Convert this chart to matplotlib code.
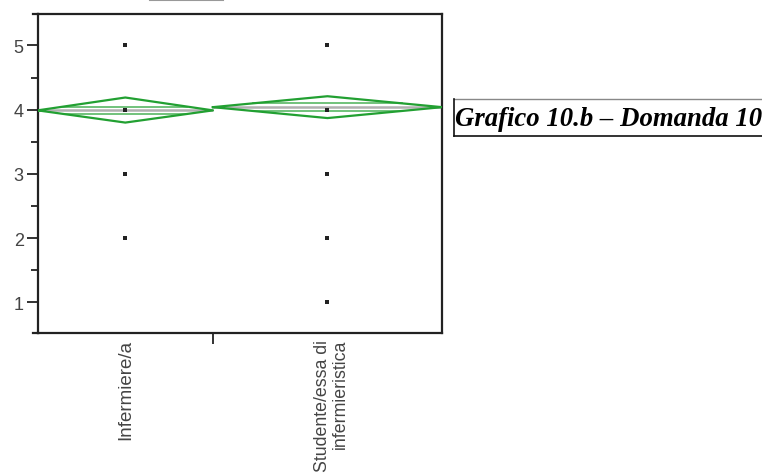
import matplotlib
matplotlib.use("Agg")
import matplotlib.pyplot as plt
from matplotlib.lines import Line2D

# ---- data ----
categories = ["Infermiere/a", "Studente/essa di\ninfermieristica"]
group_n = [26, 34]                       # group widths (proportional to sample size)
means = [3.99, 4.04]
ci_low = [3.80, 3.87]
ci_high = [4.19, 4.21]
overlap = [0.058, 0.06]                  # offset of overlap marks from the mean
points = [[5, 4, 3, 2], [5, 4, 3, 2, 1]]
yticks = [1, 2, 3, 4, 5]
title_text = "Grafico 10.b – Domanda 10"

W, H = 762, 477
fig = plt.figure(figsize=(W / 100, H / 100), dpi=100)
ax = fig.add_axes([37.7 / W, 1 - 334.3 / H, (442 - 37.7) / W, (334.3 - 15) / H])

green = "#22a032"
starts = [0]
for n in group_n[:-1]:
    starts.append(starts[-1] + n)
centers = [s + n / 2 for s, n in zip(starts, group_n)]

for i in range(len(categories)):
    x0, x1, xc = starts[i], starts[i] + group_n[i], centers[i]
    m, lo, hi = means[i], ci_low[i], ci_high[i]
    # mean line
    ax.plot([x0, x1], [m, m], color="#b0b0b0", lw=1.8, zorder=2, solid_capstyle="butt")
    # diamond
    ax.plot([x0, xc, x1, xc, x0], [m, hi, m, lo, m], color=green, lw=1.6, zorder=3)
    # overlap marks
    half = group_n[i] / 2
    for sgn, h in ((1, hi - m), (-1, m - lo)):
        d = overlap[i]
        frac = 1 - d / h
        ax.plot([xc - half * frac, xc + half * frac], [m + sgn * d, m + sgn * d],
                color=green, lw=1.2, alpha=0.75, zorder=3)
    # data points
    ax.scatter([xc] * len(points[i]), points[i], s=5, marker="s", color="#222222",
               zorder=4, linewidths=0)

ax.set_xlim(0, sum(group_n))
ax.set_ylim(0.52, 5.49)

ax.set_yticks(yticks)
ax.set_yticklabels([str(v) for v in yticks], family="Liberation Sans", fontsize=13,
                   color="#444444")
ax.set_yticks([v + 0.5 for v in yticks[:-1]], minor=True)
ax.tick_params(axis="y", which="major", length=8, width=1.3, pad=2, color="#222222")
ax.tick_params(axis="y", which="minor", length=5, width=1.3, color="#222222")

ax.set_xticks(centers)
ax.set_xticklabels([])
ax.set_xticks([starts[1]], minor=True)
ax.tick_params(axis="x", which="major", length=0)
ax.tick_params(axis="x", which="minor", length=8, width=1.3, color="#222222")

for j, lab in enumerate(categories):
    ax.text(centers[j] + (0.6 if j == 1 else 0), -0.018, lab,
            transform=ax.get_xaxis_transform(),
            rotation=90, ha="center", va="top", multialignment="right",
            family="Liberation Sans", fontsize=13.5 if j == 0 else 12.8,
            color="#444444", linespacing=1.05)

for s in ax.spines.values():
    s.set_linewidth(1.6)
    s.set_color("#222222")

# small extensions of top/bottom frame lines to the left
for yy in (15, 334.3):
    fig.add_artist(Line2D([33 / W, 38 / W], [1 - yy / H, 1 - yy / H],
                          color="#222222", lw=1.6))

# gray fragment at the very top
fig.add_artist(Line2D([150 / W, 223 / W], [1 - 0.8 / H, 1 - 0.8 / H],
                      color="#999999", lw=1.5))

# title box
fig.add_artist(Line2D([453.5 / W, 762 / W], [1 - 99.7 / H, 1 - 99.7 / H], color="#888888", lw=1.0))
fig.add_artist(Line2D([453.5 / W, 762 / W], [1 - 137.3 / H, 1 - 137.3 / H], color="#111111", lw=1.2))
fig.add_artist(Line2D([453.5 / W, 453.5 / W], [1 - 99.7 / H, 1 - 137.3 / H], color="#111111", lw=1.2))
fig.text(455 / W, 1 - 125.5 / H, title_text, family="Liberation Serif", style="italic",
         weight="bold", fontsize=19.3, ha="left", va="baseline", color="black")

fig.savefig("out.png", dpi=100)
